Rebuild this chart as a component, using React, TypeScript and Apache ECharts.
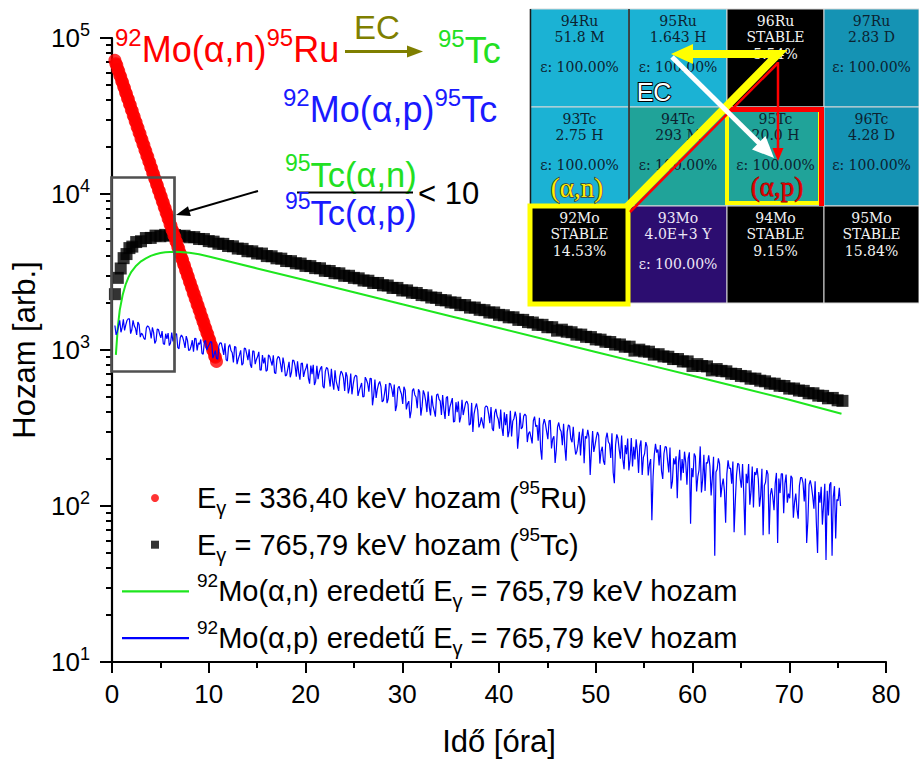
import React, { useEffect, useRef } from "react";
import * as echarts from "echarts";

// ---------- data ----------
const SERIES_NAMES = [
  "Eγ = 336,40 keV hozam (95Ru)",
  "Eγ = 765,79 keV hozam (95Tc)",
  "92Mo(α,n) eredetű Eγ = 765,79 keV hozam",
  "92Mo(α,p) eredetű Eγ = 765,79 keV hozam",
];

// red: 95Ru 336.40 keV yield, one point every 0.1 h from 0.3 h
const RED_START = 0.3;
const RED_STEP = 0.1;
const RED_VALUES = [
  72000, 68500, 66800, 62900, 61300, 57800, 56400, 53100, 51900, 48800,
  47600, 44800, 43800, 41100, 40300, 37800, 37000, 34700, 34000, 31900,
  31200, 29300, 28700, 26900, 26400, 24700, 24300, 22700, 22300, 20900,
  20500, 19200, 18800, 17600, 17300, 16200, 15900, 14900, 14600, 13700,
  13400, 12600, 12300, 11600, 11300, 10600, 10400, 9780, 9560, 8990,
  8790, 8260, 8080, 7590, 7420, 6970, 6820, 6410, 6270, 5890,
  5760, 5410, 5300, 4970, 4870, 4570, 4470, 4200, 4110, 3860,
  3780, 3550, 3470, 3260, 3190, 3000, 2930, 2750, 2690, 2530,
  2470, 2320, 2280, 2140, 2090, 1960, 1920, 1810, 1770, 1660,
  1620, 1530, 1490, 1400, 1370, 1290, 1260, 1180, 1160, 1090,
  1060, 1000, 980, 915, 900, 845,
];

// black: 95Tc 765.79 keV yield
const BLACK_TIMES = [
  0.3, 0.6, 0.9, 1.2, 1.5, 1.8, 2.1, 2.5, 3, 3.5, 4, 4.5, 5, 5.5, 6, 6.5, 7,
  7.5, 8, 8.5, 9, 9.5, 10,
  10.5, 11, 11.5, 12, 12.5, 13, 13.5, 14, 14.5, 15, 15.5, 16, 16.5, 17, 17.5,
  18, 18.5, 19, 19.5, 20, 20.5, 21, 21.5, 22, 22.5, 23, 23.5, 24, 24.5, 25,
  25.5, 26, 26.5, 27, 27.5, 28, 28.5, 29, 29.5, 30, 30.5, 31, 31.5, 32, 32.5,
  33, 33.5, 34, 34.5, 35, 35.5, 36, 36.5, 37, 37.5, 38, 38.5, 39, 39.5, 40,
  40.5, 41, 41.5, 42, 42.5, 43, 43.5, 44, 44.5, 45, 45.5, 46, 46.5, 47, 47.5,
  48, 48.5, 49, 49.5, 50, 50.5, 51, 51.5, 52, 52.5, 53, 53.5, 54, 54.5, 55,
  55.5, 56, 56.5, 57, 57.5, 58, 58.5, 59, 59.5, 60, 60.5, 61, 61.5, 62, 62.5,
  63, 63.5, 64, 64.5, 65, 65.5, 66, 66.5, 67, 67.5, 68, 68.5, 69, 69.5, 70,
  70.5, 71, 71.5, 72, 72.5, 73, 73.5, 74, 74.5, 75, 75.5,
];
const BLACK_VALUES = [
  2280, 2900, 3330, 3880, 4120, 4500, 4600, 4920, 4980, 5220, 5230, 5410,
  5360, 5470, 5400, 5460, 5370, 5400, 5280, 5290, 5150, 5140, 4990,
  4950, 4800, 4790, 4640, 4620, 4470, 4450, 4300, 4290, 4160, 4150, 4000,
  3990, 3870, 3850, 3720, 3710, 3600, 3580, 3460, 3450, 3350, 3340, 3220,
  3210, 3110, 3100, 2990, 2990, 2900, 2880, 2790, 2780, 2690, 2690, 2600,
  2590, 2500, 2500, 2410, 2410, 2330, 2320, 2250, 2240, 2170, 2160, 2090,
  2080, 2020, 2010, 1940, 1940, 1870, 1870, 1810, 1800, 1740, 1740, 1680,
  1670, 1620, 1620, 1560, 1560, 1510, 1500, 1450, 1450, 1400, 1400, 1330,
  1350, 1310, 1300, 1255, 1255, 1215, 1210, 1170, 1165, 1130, 1125, 1085,
  1085, 1050, 1050, 990, 1005, 980, 975, 935, 940, 910, 905, 875, 875, 845,
  845, 790, 812, 790, 785, 740, 755, 735, 730, 705, 702, 682, 678, 655, 655,
  636, 630, 610, 608, 590, 588, 566, 566, 550, 547, 528, 528, 510, 508, 490,
  493, 476, 472,
];

// green: 92Mo(a,n) origin curve
const GREEN_TIMES = [
  0.4, 0.6, 0.8, 1.1, 1.4, 1.7, 2, 2.5, 3, 3.5, 4, 4.5, 5, 5.5, 6, 6.5, 7, 8,
  9, 10, 12, 15, 20, 25, 30, 35, 40, 45, 50, 55, 60, 65, 70, 75.4,
];
const GREEN_VALUES = [
  930, 1400, 1800, 2250, 2620, 2920, 3170, 3470, 3700, 3870, 4010, 4110, 4180,
  4230, 4255, 4260, 4250, 4200, 4110, 3980, 3707, 3334, 2796, 2344, 1966, 1648,
  1382, 1159, 972, 815, 683, 573, 480, 390,
];

// blue: 92Mo(a,p) origin, one point every 0.125 h from 0.3 h
const BLUE_START = 0.3;
const BLUE_STEP = 0.125;
const BLUE_VALUES = [
  1435, 1251, 1316, 1420, 1548, 1299, 1392, 1572, 1334, 1450, 1546, 1586, 1584, 1273, 1349, 1551, 1428, 1380, 1251, 1512,
  1458, 1208, 1282, 1250, 1188, 1168, 1383, 1428, 1406, 1330, 1186, 1395, 1298, 1102, 1145, 1362, 1353, 1260, 1196, 1324,
  1101, 1085, 1272, 1180, 1285, 1067, 1109, 1293, 1135, 1200, 1264, 1271, 1035, 1019, 1197, 1249, 1209, 1130, 1030, 1227,
  1154, 995, 1001, 1060, 1155, 977, 1188, 1183, 995, 1110, 1086, 1168, 954, 939, 1134, 1150, 998, 1050, 1084, 1131,
  1126, 887, 934, 990, 885, 872, 1067, 1112, 1107, 1020, 931, 1103, 864, 851, 1049, 1083, 992, 960, 832, 1055,
  1040, 812, 873, 930, 995, 798, 821, 1027, 1022, 940, 860, 1009, 808, 770, 986, 982, 812, 870, 908, 974,
  746, 744, 927, 820, 893, 731, 743, 932, 910, 850, 795, 924, 715, 706, 869, 909, 894, 810, 720, 893,
  808, 681, 692, 760, 840, 669, 718, 861, 855, 790, 675, 846, 714, 646, 818, 824, 673, 730, 767, 817,
  661, 608, 796, 700, 804, 597, 629, 793, 651, 720, 763, 787, 586, 570, 729, 773, 756, 670, 583, 759,
  624, 556, 742, 630, 587, 547, 678, 733, 710, 660, 546, 720, 679, 527, 574, 707, 520, 600, 667, 689,
  679, 508, 547, 580, 614, 500, 503, 670, 644, 610, 541, 658, 656, 442, 509, 646, 493, 560, 605, 629,
  583, 465, 474, 530, 605, 456, 487, 613, 605, 560, 500, 601, 406, 440, 568, 586, 548, 520, 451, 581,
  553, 416, 453, 470, 366, 408, 549, 566, 515, 500, 423, 560, 539, 380, 435, 551, 521, 470, 400, 542,
  429, 381, 511, 440, 407, 374, 515, 523, 484, 470, 383, 514, 415, 361, 494, 504, 378, 430, 459, 492,
  345, 349, 463, 400, 468, 343, 373, 479, 383, 420, 459, 470, 447, 330, 336, 458, 298, 390, 427, 454,
  412, 319, 336, 370, 341, 314, 428, 438, 432, 390, 339, 431, 314, 303, 395, 419, 377, 360, 313, 415,
  318, 281, 399, 330, 388, 276, 302, 407, 279, 350, 364, 403, 367, 233, 285, 396, 312, 320, 377, 389,
  378, 257, 291, 300, 276, 252, 352, 374, 323, 330, 262, 368, 233, 198, 330, 361, 336, 300, 268, 352,
  354, 234, 269, 280, 189, 230, 321, 343, 311, 300, 245, 337, 241, 195, 299, 331, 325, 270, 256, 322,
  248, 214, 224, 250, 299, 211, 279, 313, 188, 280, 271, 308, 276, 158, 224, 302, 222, 245, 273, 298,
  284, 187, 225, 240, 194, 184, 270, 295, 258, 250, 203, 293, 164, 140, 246, 288, 271, 230, 201, 283,
  199, 172, 246, 215, 271, 169, 198, 273, 179, 240, 199, 268, 225, 163, 242, 263, 158, 205, 217, 257,
  240, 157, 185, 200, 81, 154, 213, 250, 220, 230, 182, 246, 167, 149, 217, 240, 239, 195, 164, 237,
  129, 144, 202, 185, 208, 112, 190, 229, 146, 200, 163, 223, 190, 137, 202, 221, 77, 175, 153, 217,
  208, 124, 154, 170, 241, 122, 148, 213, 125, 190, 188, 211, 180, 117, 152, 207, 48, 165, 172, 202,
  186, 114, 135, 150, 125, 78, 160, 196, 174, 175, 139, 193, 68, 107, 158, 188, 185, 150, 131, 186,
  119, 65, 161, 140, 186, 102, 124, 179, 98, 165, 158, 175, 149, 99, 117, 173, 65, 135, 142, 170,
  160, 66, 118, 130, 114, 94, 139, 163, 58, 150, 121, 161, 161, 90, 139, 159, 105, 120, 112, 156,
  151, 84, 106, 120, 95, 83, 135, 152, 152, 140, 107, 150, 58, 80, 137, 146, 133, 115, 96, 144,
  78, 50, 123, 105, 133, 76, 102, 139, 45, 125, 87, 137, 142, 48, 114, 134, 62, 110, 108, 131, 100,
];

const Y_MAJOR = [10, 100, 1000, 10000, 100000];
const Y_MINOR = [
  20, 30, 40, 50, 60, 70, 80, 90, 200, 300, 400, 500, 600, 700, 800, 900, 2000,
  3000, 4000, 5000, 6000, 7000, 8000, 9000, 20000, 30000, 40000, 50000, 60000,
  70000, 80000, 90000,
];

// nuclide chart inset: [name, line2, line3, kind]
const NUCLIDE_ROWS = [
  [
    ["94Ru", "51.8 M", "ε: 100.00%", "cyan"],
    ["95Ru", "1.643 H", "ε: 100.00%", "cyan"],
    ["96Ru", "STABLE", "5.54%", "black"],
    ["97Ru", "2.83 D", "ε: 100.00%", "blue"],
  ],
  [
    ["93Tc", "2.75 H", "ε: 100.00%", "cyan"],
    ["94Tc", "293 M", "ε: 100.00%", "teal"],
    ["95Tc", "20.0 H", "ε: 100.00%", "teal"],
    ["96Tc", "4.28 D", "ε: 100.00%", "blue"],
  ],
  [
    ["92Mo", "STABLE", "14.53%", "black"],
    ["93Mo", "4.0E+3 Y", "ε: 100.00%", "purple"],
    ["94Mo", "STABLE", "9.15%", "black"],
    ["95Mo", "STABLE", "15.84%", "black"],
  ],
];

// ---------- styling ----------
const F = "'Liberation Sans', Arial, sans-serif";
const CELL_FILL: Record<string, string> = {
  cyan: "#1bb2d4",
  blue: "#1593b4",
  teal: "#20a399",
  black: "#000000",
  purple: "#2c0d70",
};
const CELL_TEXT: Record<string, string> = {
  cyan: "#0c2230",
  blue: "#0c2230",
  teal: "#0c2230",
  black: "#f2f2f2",
  purple: "#ece6f6",
};
const COL_X = [530, 629, 727, 824, 919];
const ROW_Y = [9, 107, 206, 303];

const LEGEND_LABELS: Record<string, string> = {
  [SERIES_NAMES[0]]: "{m|E}{sub|γ}{m| = 336,40 keV hozam (}{sup|95}{m|Ru)}",
  [SERIES_NAMES[1]]: "{m|E}{sub|γ}{m| = 765,79 keV hozam (}{sup|95}{m|Tc)}",
  [SERIES_NAMES[2]]: "{sup|92}{m|Mo(α,n) eredetű E}{sub|γ}{m| = 765,79 keV hozam}",
  [SERIES_NAMES[3]]: "{sup|92}{m|Mo(α,p) eredetű E}{sub|γ}{m| = 765,79 keV hozam}",
};

const LEGEND_RICH = {
  m: { fontSize: 29, lineHeight: 40, fontFamily: F, color: "#000" },
  sub: { fontSize: 20, lineHeight: 14, verticalAlign: "bottom", fontFamily: F, color: "#000" },
  sup: { fontSize: 19, lineHeight: 21, verticalAlign: "top", fontFamily: F, color: "#000" },
};

function bigRich(color: string, size: number) {
  const sup = Math.round(size * 0.66);
  return {
    m: { fontSize: size, lineHeight: sup + 24, fontFamily: F, fill: color },
    s: { fontSize: sup, lineHeight: sup, verticalAlign: "top", fontFamily: F, fill: color },
  };
}

function richText(x: number, y: number, text: string, color: string, size = 36) {
  return {
    type: "text",
    x,
    y,
    z: 100,
    silent: true,
    style: {
      text,
      rich: bigRich(color, size),
      fill: color,
      align: "left",
      verticalAlign: "middle",
      textAlign: "left",
      textVerticalAlign: "middle",
    },
  };
}

function plainText(x: number, y: number, text: string, opts: any) {
  return {
    type: "text",
    x,
    y,
    z: 100,
    silent: true,
    style: {
      text,
      align: "center",
      verticalAlign: "middle",
      textAlign: "center",
      textVerticalAlign: "middle",
      ...opts,
    },
  };
}

function line(x1: number, y1: number, x2: number, y2: number, stroke: string, lineWidth: number) {
  return {
    type: "line",
    z: 100,
    silent: true,
    shape: { x1, y1, x2, y2 },
    style: { stroke, lineWidth, lineCap: "butt" },
  };
}

function poly(points: number[][], fill: string) {
  return { type: "polygon", z: 100, silent: true, shape: { points }, style: { fill } };
}

function buildInset() {
  const els: any[] = [];
  NUCLIDE_ROWS.forEach((row, r) => {
    row.forEach((cell, c) => {
      const [name, l2, l3, kind] = cell;
      const x = COL_X[c];
      const y = ROW_Y[r];
      const w = COL_X[c + 1] - x;
      const h = ROW_Y[r + 1] - y;
      els.push({
        type: "rect",
        z: 90,
        silent: true,
        shape: { x, y, width: w, height: h },
        style: { fill: CELL_FILL[kind], stroke: "#d8d8d8", lineWidth: 1 },
      });
      const cx = x + w / 2;
      const font = {
        fontFamily: "'DejaVu Serif', serif",
        fontSize: 14,
        lineHeight: 15,
        fill: CELL_TEXT[kind],
      };
      els.push({ ...plainText(cx, y + 12, name, font), z: 95 });
      els.push({ ...plainText(cx, y + 28, l2, font), z: 95 });
      const isPct = !l3.startsWith("ε");
      els.push({ ...plainText(cx, y + (isPct ? 45 : 58), l3, font), z: 95 });
    });
  });
  // dark separators
  els.push({ ...line(629, 9, 629, 206, "#1a1a1a", 1.5), z: 96 });
  els.push({ ...line(530.5, 9, 530.5, 206, "#1a1a1a", 1.5), z: 96 });

  // yellow box around 92Mo
  els.push({
    type: "rect",
    z: 100,
    silent: true,
    shape: { x: 530, y: 206, width: 98, height: 98 },
    style: { fill: null, stroke: "#ffff00", lineWidth: 5 },
  });
  // yellow box inside 95Tc
  els.push({
    type: "rect",
    z: 100,
    silent: true,
    shape: { x: 727, y: 110, width: 93, height: 93 },
    style: { fill: null, stroke: "#ffff00", lineWidth: 4 },
  });
  // red frame top + right of 95Tc
  els.push(line(727, 109.5, 824, 109.5, "#ff0000", 5));
  els.push(line(821.5, 107, 821.5, 206, "#ff0000", 5));
  // red (a,p) path
  els.push(line(630, 212, 778, 63, "#ff0000", 2.5));
  els.push(line(778, 62, 778, 150, "#ff0000", 2.5));
  els.push(poly([[778, 161], [772.5, 148], [783.5, 148]], "#ff0000"));
  // yellow (a,n) path with EC arrow
  els.push({
    type: "polyline",
    z: 100,
    silent: true,
    shape: { points: [[626, 208], [778, 54], [690, 54]] },
    style: { stroke: "#ffff00", lineWidth: 8, fill: null, lineJoin: "miter" },
  });
  els.push(poly([[671, 54], [693, 44], [693, 64]], "#ffff00"));
  // white EC arrow
  els.push(line(672, 57, 760, 144, "#ffffff", 5));
  els.push(poly([[774, 158], [752, 149.5], [765.5, 136]], "#ffffff"));
  // labels in the inset
  els.push(
    plainText(654, 92, "EC", {
      fontFamily: F,
      fontSize: 25,
      lineHeight: 20,
      fill: "#ffffff",
      stroke: "#000000",
      lineWidth: 2,
    })
  );
  els.push(
    plainText(577, 187.5, "(α,n)", {
      fontFamily: "'Liberation Serif', 'DejaVu Serif', serif",
      fontSize: 27,
      lineHeight: 20,
      fill: "#ffee00",
      stroke: "#3a3a3a",
      lineWidth: 1.5,
    })
  );
  els.push(
    plainText(777, 187, "(α,p)", {
      fontFamily: "'Liberation Serif', 'DejaVu Serif', serif",
      fontSize: 27,
      lineHeight: 20,
      fill: "#e00000",
      stroke: "#7a0000",
      lineWidth: 0.8,
    })
  );
  return els;
}

function buildAnnotations() {
  const els: any[] = [];
  els.push(richText(115, 49, "{s|92}{m|Mo(α,n)}{s|95}{m|Ru}", "#ff0000", 36));
  els.push(plainText(377, 27, "EC", { fontFamily: F, fontSize: 33, fill: "#7f7f00" }));
  els.push(line(345, 51.5, 410, 51.5, "#7f7f00", 3));
  els.push(poly([[423, 51.5], [407, 45.5], [407, 57.5]], "#7f7f00"));
  els.push(richText(438, 50, "{s|95}{m|Tc}", "#22e022", 36));
  els.push(richText(283, 109, "{s|92}{m|Mo(α,p)}{s|95}{m|Tc}", "#1a1aff", 36));
  els.push(richText(285, 175, "{s|95}{m|Tc(α,n)}", "#22e022", 34.5));
  els.push(line(297, 192.5, 413, 192.5, "#000000", 2));
  els.push(richText(285, 213, "{s|95}{m|Tc(α,p)}", "#1a1aff", 34.5));
  els.push({
    type: "text",
    x: 418,
    y: 193,
    z: 100,
    silent: true,
    style: {
      text: "< 10",
      fontFamily: F,
      fontSize: 31,
      fill: "#000000",
      align: "left",
      verticalAlign: "middle",
      textAlign: "left",
      textVerticalAlign: "middle",
    },
  });
  // pointer arrow
  els.push(line(258, 191, 189, 211, "#000000", 2));
  els.push(poly([[176, 215], [190.8, 216], [188, 206.3]], "#000000"));
  // grey box around the early region
  els.push({
    type: "rect",
    z: 100,
    silent: true,
    shape: { x: 111.5, y: 177.5, width: 63, height: 194 },
    style: { fill: null, stroke: "#505050", lineWidth: 2.7 },
  });
  return els;
}

export default function App() {
  const ref = useRef<HTMLDivElement>(null);

  useEffect(() => {
    if (!ref.current) return;
    const chart = echarts.init(ref.current, null, { renderer: "svg" });

    const redData = RED_VALUES.map((v, i) => [RED_START + i * RED_STEP, v]);
    const blackData = BLACK_TIMES.map((t, i) => [t, BLACK_VALUES[i]]);
    const greenData = GREEN_TIMES.map((t, i) => [t, GREEN_VALUES[i]]);
    const blueData = BLUE_VALUES.map((v, i) => [BLUE_START + i * BLUE_STEP, v]);

    const axisStyle = { color: "#000", width: 2.2 };

    chart.setOption({
      animation: false,
      backgroundColor: "#ffffff",
      textStyle: { fontFamily: F },
      grid: { left: 112, right: 33, top: 38, bottom: 101, containLabel: false },
      legend: [
        {
          orient: "vertical",
          left: 146,
          top: 473,
          itemWidth: 8,
          itemHeight: 8,
          itemGap: 6.7,
          selectedMode: false,
          data: [
            { name: SERIES_NAMES[0], icon: "circle" },
            { name: SERIES_NAMES[1], icon: "rect" },
          ],
          formatter: (name: string) => LEGEND_LABELS[name],
          textStyle: { fontFamily: F, color: "#000", padding: [0, 0, 0, 33], rich: LEGEND_RICH },
        },
        {
          orient: "vertical",
          left: 117,
          top: 566.4,
          itemWidth: 67,
          itemHeight: 2.2,
          itemGap: 6.7,
          selectedMode: false,
          data: [
            { name: SERIES_NAMES[2], icon: "rect" },
            { name: SERIES_NAMES[3], icon: "rect" },
          ],
          formatter: (name: string) => LEGEND_LABELS[name],
          textStyle: { fontFamily: F, color: "#000", padding: [0, 0, 0, 3], rich: LEGEND_RICH },
        },
      ],
      xAxis: {
        type: "value",
        min: 0,
        max: 80,
        interval: 10,
        name: "Idő [óra]",
        nameLocation: "middle",
        nameGap: 64,
        nameTextStyle: { fontSize: 31, fontFamily: F, color: "#000" },
        axisLine: { show: true, onZero: false, lineStyle: axisStyle },
        axisTick: { show: true, inside: false, length: 11, lineStyle: { color: "#000", width: 2 } },
        minorTick: { show: true, splitNumber: 2, length: 6, lineStyle: { color: "#000", width: 2 } },
        axisLabel: { fontSize: 26, fontFamily: F, color: "#000", margin: 19 },
        splitLine: { show: false },
        minorSplitLine: { show: false },
      },
      yAxis: [
        {
          type: "log",
          logBase: 10,
          min: 10,
          max: 100000,
          name: "Hozam [arb.]",
          nameLocation: "middle",
          nameGap: 68,
          nameRotate: 90,
          nameTextStyle: { fontSize: 31, fontFamily: F, color: "#000" },
          axisLine: { show: true, onZero: false, lineStyle: axisStyle },
          axisTick: {
            show: true,
            length: 12,
            lineStyle: { color: "#000", width: 2 },
            customValues: Y_MAJOR,
          },
          axisLabel: {
            margin: 22,
            customValues: Y_MAJOR,
            formatter: (v: number) => `{b|10}{s|${Math.round(Math.log10(v))}}`,
            rich: {
              b: { fontSize: 26, lineHeight: 34, fontFamily: F, color: "#000" },
              s: { fontSize: 18, lineHeight: 16, verticalAlign: "top", fontFamily: F, color: "#000" },
            },
          },
          splitLine: { show: false },
        },
        {
          type: "log",
          logBase: 10,
          min: 10,
          max: 100000,
          position: "left",
          axisLine: { show: false },
          axisLabel: { show: false },
          splitLine: { show: false },
          axisTick: {
            show: true,
            length: 6,
            lineStyle: { color: "#000", width: 2 },
            customValues: Y_MINOR,
          },
        },
      ],
      series: [
        {
          name: SERIES_NAMES[1],
          type: "scatter",
          data: blackData,
          symbol: "rect",
          symbolSize: 12,
          itemStyle: { color: "#000000" },
          silent: true,
          z: 2,
        },
        {
          name: SERIES_NAMES[0],
          type: "scatter",
          data: redData,
          symbol: "circle",
          symbolSize: 13,
          itemStyle: { color: "#ff0000" },
          silent: true,
          z: 3,
        },
        {
          name: SERIES_NAMES[2],
          type: "line",
          data: greenData,
          symbol: "none",
          showSymbol: false,
          lineStyle: { color: "#1ee61e", width: 2 },
          itemStyle: { color: "#1ee61e" },
          silent: true,
          z: 4,
        },
        {
          name: SERIES_NAMES[3],
          type: "line",
          data: blueData,
          symbol: "none",
          showSymbol: false,
          lineStyle: { color: "#0000ff", width: 1.2 },
          itemStyle: { color: "#0000ff" },
          silent: true,
          z: 5,
        },
      ],
      graphic: { elements: [...buildAnnotations(), ...buildInset()] },
    });

    return () => chart.dispose();
  }, []);

  return (
    <div
      ref={ref}
      style={{ position: "fixed", left: 0, top: 0, width: 919, height: 763, background: "#fff" }}
    />
  );
}
